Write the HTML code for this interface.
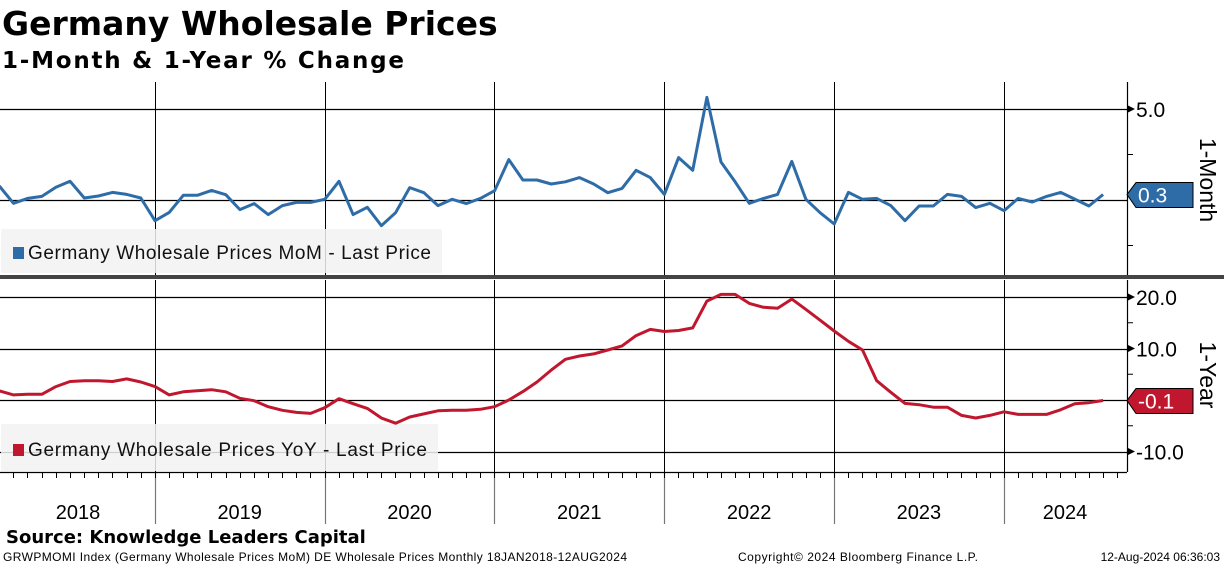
<!DOCTYPE html>
<html><head><meta charset="utf-8">
<style>
body{margin:0;background:#fff;width:1224px;height:566px;overflow:hidden;font-family:"Liberation Sans","DejaVu Sans",sans-serif}
svg{display:block}
</style></head>
<body>
<svg id="chart" width="1224" height="566" viewBox="0 0 1224 566" xmlns="http://www.w3.org/2000/svg">
<text x="2" y="35" font-size="33" font-weight="bold" font-family="DejaVu Sans, sans-serif">Germany Wholesale Prices</text>
<text x="2" y="68" font-size="23" font-weight="bold" font-family="DejaVu Sans, sans-serif" textLength="402">1-Month &amp; 1-Year % Change</text>
<g id="grid"></g>
<g id="marks"></g>
<text x="6" y="543" font-size="18" font-weight="bold" font-family="DejaVu Sans, sans-serif">Source: Knowledge Leaders Capital</text>
<text x="3" y="561" font-size="12" textLength="624">GRWPMOMI Index (Germany Wholesale Prices MoM) DE Wholesale Prices  Monthly 18JAN2018-12AUG2024</text>
<text x="738" y="561" font-size="12" textLength="240">Copyright© 2024 Bloomberg Finance L.P.</text>
<text x="1220" y="561" font-size="12" text-anchor="end">12-Aug-2024 06:36:03</text>
</svg>
<script>
const years = ["2018","2019","2020","2021","2022","2023","2024"];
const momTicks = [5.0];
const yoyTicks = [20.0, 10.0, -10.0];
const momValues = [0.77,-0.18,0.09,0.2,0.7,1.03,0.11,0.22,0.42,0.31,0.11,-1.14,
-0.68,0.26,0.26,0.53,0.29,-0.53,-0.2,-0.8,-0.31,-0.13,-0.13,0.04,
1.03,-0.8,-0.4,-1.41,-0.7,0.68,0.4,-0.31,0.04,-0.2,0.09,0.51,
2.22,1.1,1.1,0.88,1.0,1.23,0.88,0.4,0.64,1.63,1.23,0.31,
2.33,1.63,5.64,2.09,1.0,-0.18,0.09,0.31,2.12,0.04,-0.7,-1.32,
0.42,0.04,0.09,-0.31,-1.14,-0.33,-0.33,0.31,0.2,-0.42,-0.18,-0.59,
0.09,-0.11,0.2,0.42,0.05,-0.33,0.3];
const yoyValues = [1.78,0.99,1.1,1.1,2.6,3.6,3.75,3.75,3.6,4.1,3.5,2.6,
0.99,1.6,1.78,2.0,1.6,0.33,-0.13,-1.3,-2.0,-2.4,-2.6,-1.5,
0.26,-0.72,-1.64,-3.5,-4.5,-3.3,-2.7,-2.1,-2.0,-2.0,-1.8,-1.3,
0,1.64,3.5,5.8,7.9,8.55,8.95,9.7,10.5,12.5,13.7,13.3,
13.5,14.0,19.2,20.5,20.5,18.75,18.0,17.8,19.6,17.6,15.5,13.4,
11.4,9.7,3.75,1.5,-0.66,-0.92,-1.4,-1.4,-3.0,-3.5,-3.0,-2.3,
-2.8,-2.8,-2.8,-1.9,-0.72,-0.53,-0.1];
const momLast = "0.3", yoyLast = "-0.1";

const NS="http://www.w3.org/2000/svg";
const grid=document.getElementById('grid'), marks=document.getElementById('marks');
const R=1127, YR0=-15, YW=169.8;
const xM = i => 155 + (i-11)*YW/12;
const yMom = v => 200 - v*18.2;
const yYoy = v => 400 - v*5.15;
function mk(tag,attrs,parent){const e=document.createElementNS(NS,tag);for(const k in attrs)e.setAttribute(k,attrs[k]);parent.appendChild(e);return e;}
function line(x1,y1,x2,y2,st,w,p){return mk('line',{x1,y1,x2,y2,stroke:st,'stroke-width':w},p||grid);}

// vertical year gridlines
for(let k=1;k<years.length;k++){
  const x=Math.round(YR0+k*YW)+0.5;
  line(x,82,x,276,'#000',1);
  line(x,280,x,472,'#000',1);
  line(x,472,x,524,'#777',1.2);
}
// month ticks
for(let m=0;m<12*years.length;m++){
  const x=Math.round(YR0+m*YW/12)+0.5;
  if(x>0&&x<R) line(x,472,x,478,'#000',1);
}
// year labels
years.forEach((y,k)=>{
  let cx = YR0+(k+0.5)*YW;
  if(k===0) cx=78;
  if(k===years.length-1) cx=1065;
  const t=mk('text',{x:cx,y:519,'font-size':20,'text-anchor':'middle',fill:'#000'},grid);
  t.textContent=y;
  
  
});
// horizontal gridlines top
[5,0].forEach(v=>line(0,Math.round(yMom(v))+0.5,R,Math.round(yMom(v))+0.5,'#000',1.2));
[2.5,-2.5].forEach(v=>line(R,yMom(v),R+6,yMom(v),'#000',1));
momTicks.forEach(v=>{
  const y=yMom(v);
  mk('path',{d:`M${R} ${y-4}L${R+8} ${y}L${R} ${y+4}Z`,fill:'#000'},grid);
  const t=mk('text',{x:R+9,y:y+8,'font-size':21},grid);t.textContent=v.toFixed(1);
  
  
});
[20,10,0,-10].forEach(v=>line(0,Math.round(yYoy(v))+0.5,R,Math.round(yYoy(v))+0.5,'#000',1.2));
[15,5,-5].forEach(v=>line(R,yYoy(v),R+6,yYoy(v),'#000',1));
yoyTicks.forEach(v=>{
  const y=yYoy(v);
  mk('path',{d:`M${R} ${y-4}L${R+8} ${y}L${R} ${y+4}Z`,fill:'#000'},grid);
  const t=mk('text',{x:R+9,y:y+8,'font-size':21},grid);t.textContent=v.toFixed(1);
  
  
});
// axes
line(R+0.5,82,R+0.5,276,'#000',1.2);
line(R+0.5,280,R+0.5,472,'#000',1.2);
line(0,472.5,R,472.5,'#000',1.2);
let sep=mk('rect',{x:0,y:275,width:1224,height:4,fill:'#444'},grid);



// semi-transparent legend boxes (gridlines show through)
let lg=mk('rect',{x:1,y:229,width:441,height:44,fill:'#f2f2f2','fill-opacity':0.85,rx:2},grid);


lg=mk('rect',{x:1,y:424,width:437,height:47,fill:'#f2f2f2','fill-opacity':0.85,rx:2},grid);



// series
function series(vals,yf,color,name){
  const d=vals.map((v,i)=>(i?'L':'M')+xM(i).toFixed(1)+' '+yf(v).toFixed(1)).join('');
  const p=mk('path',{d,fill:'none',stroke:color,'stroke-width':3,'stroke-linejoin':'round'},marks);
  
  
}
series(momValues,yMom,'#2e6ca8','mom-line');
series(yoyValues,yYoy,'#c0172f','yoy-line');

// last price tags
function tag(v,txt,yf,color,name){
  const y=yf(v);
  const g=mk('g',{},marks);
  
  
  mk('path',{d:`M${R} ${y}L${R+9} ${y-12}L${R+66} ${y-12}L${R+66} ${y+13}L${R+9} ${y+13}Z`,fill:color,stroke:'#000','stroke-width':1},g);
  const t=mk('text',{x:R+11,y:y+8,'font-size':21,fill:'#fff'},g);t.textContent=txt;
}
tag(momValues[momValues.length-1],momLast,yMom,'#2e6ca8','mom-last-price-tag');
tag(yoyValues[yoyValues.length-1],yoyLast,yYoy,'#c0172f','yoy-last-price-tag');

// axis titles
function vt(txt,cx,cy,name){
  const t=mk('text',{x:cx,y:cy,'font-size':23,'text-anchor':'middle',transform:`rotate(90 ${cx} ${cy})`},marks);
  t.textContent=txt;
  
  
}
vt('1-Month',1200,180,'mom-axis-title');
vt('1-Year',1200,375,'yoy-axis-title');

// legends
function legend(y,color,txt,len,name){
  const g=mk('g',{},marks);
  
  
  mk('rect',{x:13,y:y-12,width:11,height:12,fill:color},g);
  const t=mk('text',{x:28,y:y,'font-size':19,fill:'#111',textLength:len},g);t.textContent=txt;
}
legend(259,'#2e6ca8','Germany Wholesale Prices MoM - Last Price',403,'mom-legend');
legend(456,'#c0172f','Germany Wholesale Prices YoY - Last Price',399,'yoy-legend');
</script>
</body></html>
